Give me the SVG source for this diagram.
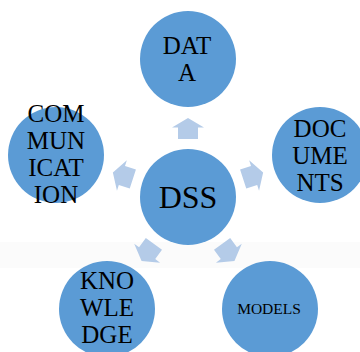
<svg xmlns="http://www.w3.org/2000/svg" width="360" height="352" viewBox="0 0 360 352">
<style>
.node{fill:#5B9BD5}
.arr{fill:#B4CBE8}
text{font-family:"Liberation Serif","Times New Roman",serif;fill:#000;text-anchor:middle}
.t{font-size:25px}
</style>
<defs>
<path id="arrow" d="M188,118 L204,127.5 L198,127.5 L198,139 L178,139 L178,127.5 L172,127.5 Z"/>
</defs>
<rect x="0" y="0" width="360" height="352" fill="#fff"/>
<rect x="0" y="242" width="360" height="26" fill="#fbfbfb"/>
<g id="connectors" class="arr">
<use href="#arrow"/>
<use href="#arrow" transform="rotate(72 188 197)"/>
<use href="#arrow" transform="rotate(144 188 197)"/>
<use href="#arrow" transform="rotate(216 188 197)"/>
<use href="#arrow" transform="rotate(288 188 197)"/>
</g>
<g id="dss"><circle class="node" cx="188" cy="197" r="48"/><text x="188" y="208" style="font-size:32px">DSS</text></g>
<g id="data"><circle class="node" cx="188" cy="59" r="48"/><text class="t" x="187" y="54">DAT</text><text class="t" x="187" y="81">A</text></g>
<g id="documents"><circle class="node" cx="320" cy="155" r="48"/><text class="t" x="320" y="137">DOC</text><text class="t" x="320" y="164">UME</text><text class="t" x="320" y="191">NTS</text></g>
<g id="models"><circle class="node" cx="270" cy="309" r="48"/><text x="269" y="314" style="font-size:15.5px">MODELS</text></g>
<g id="knowledge"><circle class="node" cx="107" cy="309" r="48"/><text class="t" x="107" y="289">KNO</text><text class="t" x="107" y="316">WLE</text><text class="t" x="107" y="343">DGE</text></g>
<g id="communication"><circle class="node" cx="56" cy="155" r="48"/><text class="t" x="56" y="122">COM</text><text class="t" x="56" y="149">MUN</text><text class="t" x="56" y="176">ICAT</text><text class="t" x="56" y="203">ION</text></g>
</svg>
